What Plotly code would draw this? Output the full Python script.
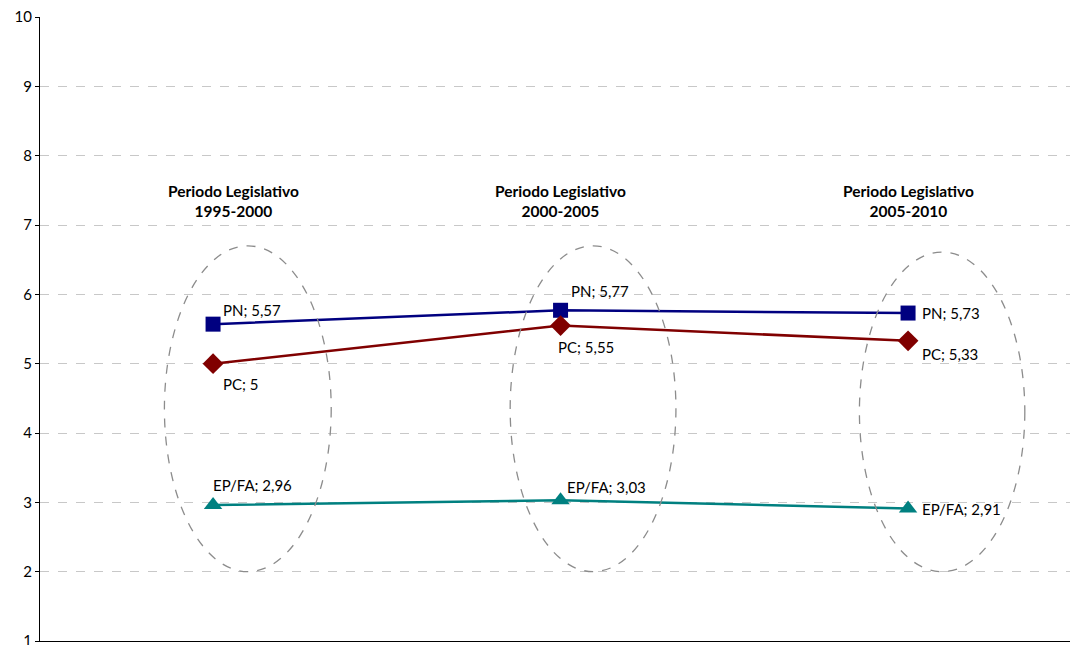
import plotly.graph_objects as go

periods = ["Periodo Legislativo<br>1995-2000", "Periodo Legislativo<br>2000-2005", "Periodo Legislativo<br>2005-2010"]
series_names = ["PN", "PC", "EP/FA"]
pn_values = [5.57, 5.77, 5.73]
pc_values = [5.0, 5.55, 5.33]
epfa_values = [2.96, 3.03, 2.91]
y_ticks = [1, 2, 3, 4, 5, 6, 7, 8, 9, 10]

FONT = "Lato, 'Open Sans', sans-serif"
xs = list(range(len(periods)))

styles = {
    "PN": dict(color="#000080", symbol="square", size=15),
    "PC": dict(color="#800000", symbol="diamond", size=16),
    "EP/FA": dict(color="#008080", symbol="triangle-up", size=16),
}
values = {"PN": pn_values, "PC": pc_values, "EP/FA": epfa_values}

# label offsets (pixels) per series/point: (xshift, yshift, xanchor)
offsets = {
    "PN": [(8, 14, "left"), (8, 19, "left"), (12, 0, "left")],
    "PC": [(8, -20, "left"), (-5, -21, "left"), (12, -13, "left")],
    "EP/FA": [(-2, 20, "left"), (4, 13, "left"), (12, 0, "left")],
}

fig = go.Figure()
for name in series_names:
    st = styles[name]
    fig.add_trace(go.Scatter(
        x=xs, y=values[name], mode="lines+markers", name=name,
        line=dict(color=st["color"], width=2.5),
        marker=dict(color=st["color"], symbol=st["symbol"], size=st["size"]),
        showlegend=False, cliponaxis=False,
    ))

annotations = []
for name in series_names:
    for i, v in enumerate(values[name]):
        dx, dy, xa = offsets[name][i]
        txt = f"{name}; {v:g}".replace(".", ",")
        annotations.append(dict(
            x=i, y=v, xref="x", yref="y", text=txt, showarrow=False,
            xshift=dx, yshift=dy, xanchor=xa, yanchor="middle",
            font=dict(family=FONT, size=15, color="#000000"),
        ))

title_x = [0.06, 0.0, 0.0]
for i, p in enumerate(periods):
    annotations.append(dict(
        x=i + title_x[i], y=7.35, xref="x", yref="y", text="<b>" + p + "</b>",
        showarrow=False, xanchor="center", yanchor="middle",
        font=dict(family=FONT, size=15.5, color="#000000"),
    ))

ellipses = [(-0.14, 0.34, 2.0, 6.70), (0.855, 1.332, 2.0, 6.70), (1.86, 2.336, 2.0, 6.61)]
shapes = []
for (x0, x1, y0, y1) in ellipses:
    shapes.append(dict(type="circle", xref="x", yref="y", x0=x0, x1=x1, y0=y0, y1=y1,
                       line=dict(color="#8c8c8c", width=1.3, dash="dash"), layer="above"))

fig.update_layout(
    width=1070, height=645,
    margin=dict(l=40, r=0, t=17, b=4, autoexpand=False),
    paper_bgcolor="white", plot_bgcolor="white",
    annotations=annotations, shapes=shapes,
    font=dict(family=FONT, size=15, color="#000000"),
)
fig.update_xaxes(range=[-0.498, 2.466], showticklabels=False, ticks="", showgrid=False,
                 zeroline=False, showline=True, linecolor="#000000", linewidth=1, automargin=False)
fig.update_yaxes(range=[1, 10], tickvals=y_ticks, ticks="outside", ticklen=4, tickcolor="#000000",
                 showline=True, linecolor="#000000", linewidth=1, zeroline=False,
                 showgrid=True, gridcolor="#c8c8c8", griddash="dash", gridwidth=1,
                 ticklabeloverflow="allow", automargin=False,
                 tickfont=dict(family=FONT, size=15, color="#000000"))

fig.write_html("out.html")
